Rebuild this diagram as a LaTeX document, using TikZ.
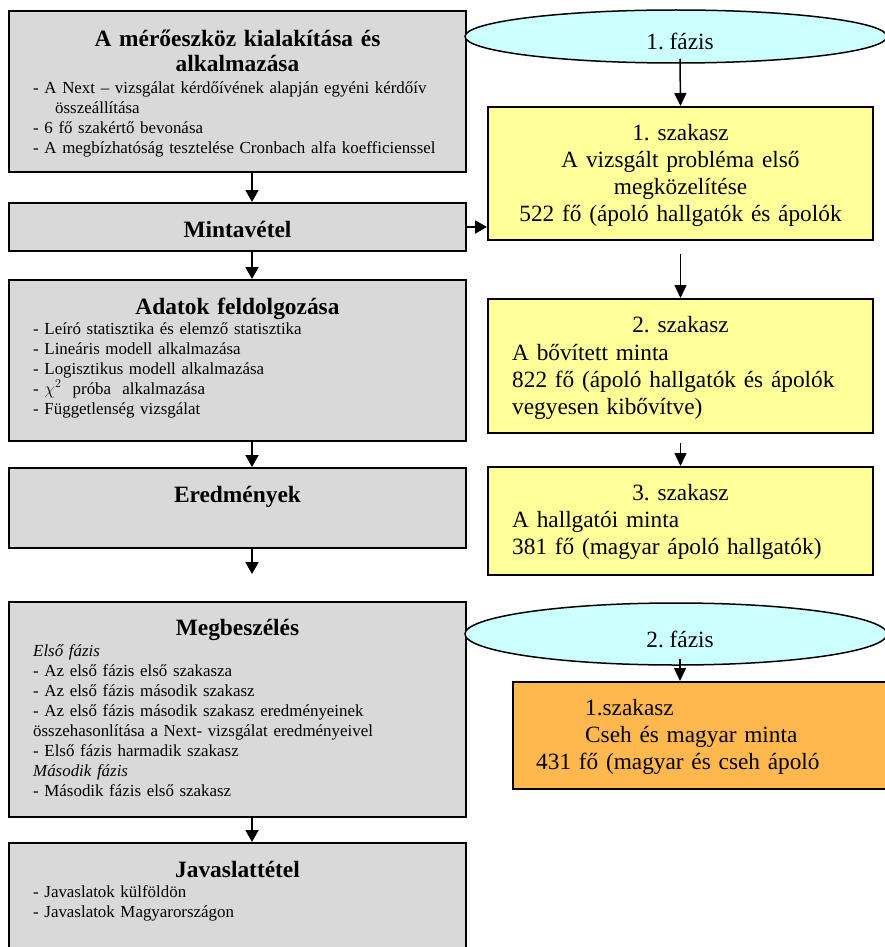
\documentclass[tikz,border=0pt]{standalone}
\usepackage{fontspec}
\setmainfont{Liberation Serif}
\frenchspacing
\usetikzlibrary{positioning,shapes.geometric,arrows.meta}
\definecolor{boxgray}{RGB}{217,217,217}
\definecolor{boxyellow}{RGB}{255,255,153}
\definecolor{boxorange}{RGB}{255,184,77}
\definecolor{phasecyan}{RGB}{204,255,255}

\begin{document}
\begin{tikzpicture}[x=1pt,y=-1pt,
  lbox/.style={draw,line width=2pt,fill=boxgray,minimum width=457pt,inner sep=0pt},
  rbox/.style={draw,line width=2pt,fill=boxyellow,minimum width=385pt,inner sep=0pt},
  phase/.style={draw,ellipse,line width=1.5pt,fill=phasecyan,minimum width=422pt,inner sep=0pt,
    font=\fontsize{23.3}{25}\selectfont,text height=26pt,text depth=0pt},
  ttl/.style={inner sep=0pt,anchor=base,text width=440pt,align=center,font=\fontsize{23.4}{25}\selectfont\bfseries},
  body/.style={inner sep=0pt,anchor=base west,text width=425pt,align=left,font=\fontsize{16.9}{20}\selectfont},
  rtxt/.style={inner sep=0pt,text width=370pt,font=\fontsize{23.3}{27.3}\selectfont},
  arr/.style={-{Triangle[width=13pt,length=12pt]},line width=2pt},
  arrb/.style={-{Triangle[width=12pt,length=13pt]},line width=1.5pt}]

\useasboundingbox (0,0) rectangle (885,947);
\clip (0,0) rectangle (885,947);

\node[lbox,minimum height=160pt] (b1) at (237.5,91.5) {};
\node[lbox,minimum height=48pt] (b2) at (237.5,227) {};
\node[lbox,minimum height=161pt] (b3) at (237.5,360.5) {};
\node[lbox,minimum height=80pt] (b4) at (237.5,508) {};
\node[lbox,minimum height=215pt] (b5) at (237.5,709.5) {};
\node[lbox,minimum height=120pt] (b6) at (237.5,903) {};

\node[ttl] (t1) at (237.5,47) {A mérőeszköz kialakítása és\\alkalmazása};
\node[body] (l1) at (33,94) {- A Next – vizsgálat kérdőívének alapján egyéni kérdőív\\\hspace*{22pt}összeállítása\\- 6 fő szakértő bevonása\\- A megbízhatóság tesztelése Cronbach alfa koefficienssel};
\node[ttl] (t2) at (237.5,237) {Mintavétel};
\node[ttl] (t3) at (237.5,314) {Adatok feldolgozása};
\node[body] (l3) at (33,334) {- Leíró statisztika és elemző statisztika\\- Lineáris modell alkalmazása\\- Logisztikus modell alkalmazása\\- $\chi^{2}$\ \ próba\ \ alkalmazása\\- Függetlenség vizsgálat};
\node[ttl] (t4) at (237.5,502) {Eredmények};
\node[ttl] (t5) at (237.5,635) {Megbeszélés};
\node[body] (l5) at (33,656) {\textit{Első fázis}\\- Az első fázis első szakasza\\- Az első fázis második szakasz\\- Az első fázis második szakasz eredményeinek\\összehasonlítása a Next- vizsgálat eredményeivel\\- Első fázis harmadik szakasz\\\textit{Második fázis}\\- Második fázis első szakasz};
\node[ttl] (t6) at (237.5,877) {Javaslattétel};
\node[body] (l6) at (33,897) {- Javaslatok külföldön\\- Javaslatok Magyarországon};

\node[phase,minimum height=53pt] (f1) at (676,36.5) {\hspace*{8pt}1. fázis};
\node[rbox,minimum height=133pt] (s1) at (680.5,173.5) {};
\node[rbox,minimum height=134pt] (s2) at (680.5,366) {};
\node[rbox,minimum height=108pt] (s3) at (680.5,521) {};
\node[phase,minimum height=62pt] (f2) at (676,634) {\hspace*{8pt}2. fázis};
\node[rbox,fill=boxorange,minimum width=392pt,minimum height=107pt] (s4) at (709,735.5) {};

\node[rtxt,anchor=base,align=center] (r1) at (680.5,140) {1. szakasz\\A vizsgált probléma első\\megközelítése\\522 fő (ápoló hallgatók és ápolók};
\node[rtxt,anchor=base,align=center] (h2) at (680.5,332) {2. szakasz};
\node[rtxt,anchor=base west,align=left] (r2) at (512,360) {A bővített minta\\822 fő (ápoló hallgatók és ápolók\\vegyesen kibővítve)};
\node[rtxt,anchor=base,align=center] (h3) at (680.5,500) {3. szakasz};
\node[rtxt,anchor=base west,align=left] (r3) at (512,527) {A hallgatói minta\\381 fő (magyar ápoló hallgatók)};
\node[rtxt,anchor=base west,align=left] (r4) at (536,715) {\hspace*{49pt}1.szakasz\\\hspace*{49pt}Cseh és magyar minta\\431 fő (magyar és cseh ápoló};

\coordinate (c1) at (252,574);

\foreach \x/\y in {1/2,2/3,3/4,5/6}
	\draw[arr]([xshift=14.5pt]b\x.south)to([xshift=14.5pt]b\y.north);
\draw[arr]([xshift=14.5pt]b4.south)to(c1);
\draw[arr](b2.east)to(b2.east -| s1.west);

\draw[arrb]([xshift=4pt,yshift=5pt]f1.south)to(s1.north);
\draw[arrb]([yshift=-13pt]s1.south)to(s2.north);
\draw[arrb]([yshift=-9pt]s2.south)to(s3.north);
\draw[arrb]([xshift=4pt,yshift=7pt]f2.south)to([xshift=4pt]f2.south |- s4.north);

\end{tikzpicture}
\end{document}
